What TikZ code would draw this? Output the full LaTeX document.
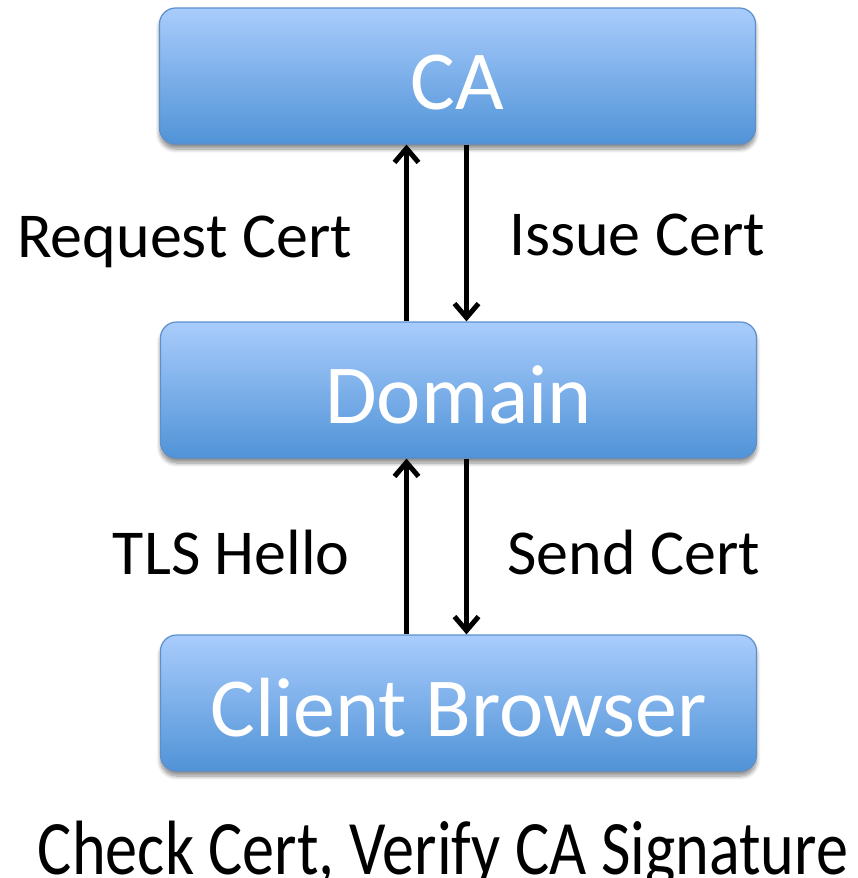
\documentclass[tikz,border=0pt]{standalone}
\usepackage{fontspec}
\setmainfont{Carlito}
\usetikzlibrary{arrows.meta,shadows.blur}

\definecolor{boxtop}{HTML}{A9CCFC}
\definecolor{boxbot}{HTML}{5093D7}
\definecolor{boxedge}{HTML}{5C8FCB}

\tikzset{
  party/.style={
    rectangle, rounded corners=16pt,
    minimum width=596pt, minimum height=136pt,
    top color=boxtop, bottom color=boxbot,
    draw=boxedge, line width=1.2pt,
    text=white, font=\fontsize{84}{90}\selectfont,
    text height=66pt, text depth=0pt,
    blur shadow={shadow xshift=0pt, shadow yshift=-5pt,
                 shadow blur steps=8, shadow blur radius=4pt, shadow opacity=45}
  },
  msg/.style={
    line width=5pt,
    -{Straight Barb[length=14pt,width=24pt,line width=5pt]}
  },
  lbl/.style={font=\fontsize{64}{70}\selectfont, inner sep=0pt},
  note/.style={font=\fontsize{77}{84}\selectfont, inner sep=0pt}
}

\begin{document}
\begin{tikzpicture}[x=1pt,y=-1pt]
  \useasboundingbox (0,0) rectangle (857,878);
  \clip (0,0) rectangle (857,878);

  % the three parties
  \node[party] (ca)     at (457.5,76)  {CA};
  \node[party] (domain) at (458.5,390) {Domain};
  \node[party] (client) at (458.5,703) {Client Browser};

  % columns for upward and downward messages
  \coordinate (up)   at (406.5,0);
  \coordinate (down) at (466.5,0);

  % messages between parties
  \draw[msg] (domain.north -| up)   -- (ca.south -| up);
  \draw[msg] (ca.south -| down)     -- (domain.north -| down);
  \draw[msg] (client.north -| up)   -- (domain.south -| up);
  \draw[msg] (domain.south -| down) -- (client.north -| down);

  % message labels
  \node[lbl, anchor=base east] (lreq)   at (352,257) {Request Cert};
  \node[lbl, anchor=base west] (liss)   at (509,255) {Issue Cert};
  \node[lbl, anchor=base east] (lhello) at (350,574) {TLS Hello};
  \node[lbl, anchor=base west] (lsend)  at (507,574) {Send Cert};

  % client-side check, set condensed to fit the width
  \node[note, anchor=base] (check) at (443,874)
    {\resizebox{810pt}{\height}{Check Cert, Verify CA Signature}};
\end{tikzpicture}
\end{document}
